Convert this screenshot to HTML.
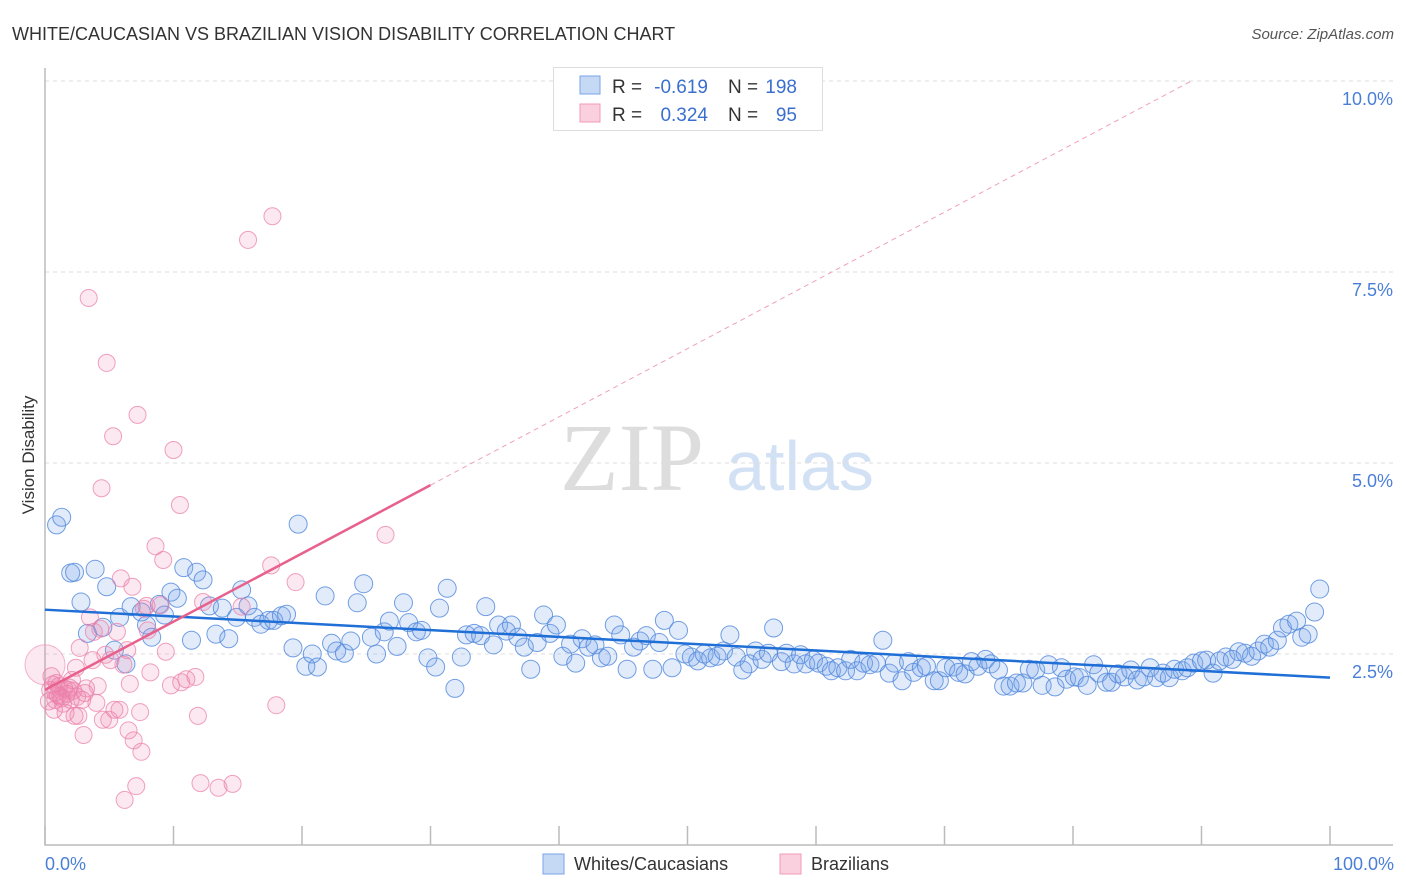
<!DOCTYPE html>
<html><head><meta charset="utf-8"><style>
body{margin:0;background:#fff;font-family:"Liberation Sans",sans-serif;}
svg{display:block}
</style></head><body>
<svg id="chart" width="1406" height="892">
<text x="12" y="40" font-size="18" fill="#333">WHITE/CAUCASIAN VS BRAZILIAN VISION DISABILITY CORRELATION CHART</text>
<text x="1394" y="39" font-size="15" fill="#555" font-style="italic" text-anchor="end">Source: ZipAtlas.com</text>
<g>
<text x="632" y="490" font-size="96" font-family="Liberation Serif,serif" fill="#ddd" text-anchor="middle">ZIP</text>
<text x="800" y="490" font-size="70" fill="#d3e1f5" text-anchor="middle">atlas</text>
</g>
<g id="grid"></g>
<g id="axes"></g>
<g id="pts"></g>
<g id="trends"></g>
<text transform="translate(34,455) rotate(-90)" font-size="17" fill="#333" text-anchor="middle">Vision Disability</text>
<text x="45" y="870" font-size="18" fill="#4a7fd8">0.0%</text>
<text x="1394" y="870" font-size="18" fill="#4a7fd8" text-anchor="end">100.0%</text>
<g>
<rect x="553.5" y="67.5" width="269" height="63" fill="#fff" stroke="#ddd"/>
<rect x="580" y="76" width="20" height="18" fill="#c5d9f5" stroke="#7aa5e8"/>
<rect x="580" y="104" width="20" height="18" fill="#fbd0de" stroke="#f29ab8"/>
<text x="612" y="93" font-size="19" fill="#333">R =</text>
<text x="708" y="93" font-size="19" fill="#3a6fd0" text-anchor="end">-0.619</text>
<text x="728" y="93" font-size="19" fill="#333">N =</text>
<text x="797" y="93" font-size="19" fill="#3a6fd0" text-anchor="end">198</text>
<text x="612" y="121" font-size="19" fill="#333">R =</text>
<text x="708" y="121" font-size="19" fill="#3a6fd0" text-anchor="end">0.324</text>
<text x="728" y="121" font-size="19" fill="#333">N =</text>
<text x="797" y="121" font-size="19" fill="#3a6fd0" text-anchor="end">95</text>
</g>
<g>
<rect x="543" y="854" width="21" height="20" fill="#c5d9f5" stroke="#7aa5e8"/>
<text x="574" y="870" font-size="18" fill="#333">Whites/Caucasians</text>
<rect x="780" y="854" width="21" height="20" fill="#fbd0de" stroke="#f29ab8"/>
<text x="811" y="870" font-size="18" fill="#333">Brazilians</text>
</g>
</svg>
<script>
const yTicks=[2.5,5,7.5,10];
const yTickLabels=["2.5%","5.0%","7.5%","10.0%"];
const xTicks=[0,10,20,30,40,50,60,70,80,90,100];
const whitesX=[0.9,1.3,2.0,2.3,2.8,3.3,3.9,4.5,4.8,5.4,5.8,6.3,6.7,7.5,7.9,8.3,8.9,9.3,9.8,10.3,10.8,11.4,11.8,12.3,12.8,13.3,13.8,14.3,14.9,15.3,15.8,16.3,16.8,17.4,17.8,18.4,18.8,19.3,19.7,20.3,20.8,21.2,21.8,22.3,22.7,23.3,23.8,24.3,24.8,25.4,25.8,26.4,26.8,27.4,27.9,28.3,28.9,29.3,29.8,30.4,30.7,31.3,31.9,32.4,32.8,33.4,33.9,34.3,34.9,35.3,35.9,36.3,36.8,37.3,37.8,38.3,38.8,39.3,39.8,40.3,40.9,41.3,41.8,42.3,42.8,43.3,43.8,44.3,44.8,45.3,45.8,46.3,46.8,47.3,47.8,48.2,48.8,49.3,49.8,50.3,50.8,51.3,51.8,52.3,52.8,53.3,53.8,54.3,54.8,55.3,55.8,56.3,56.7,57.3,57.7,58.3,58.8,59.2,59.8,60.2,60.8,61.2,61.7,62.3,62.7,63.2,63.7,64.2,64.7,65.2,65.7,66.1,66.7,67.2,67.6,68.2,68.6,69.2,69.6,70.1,70.7,71.1,71.6,72.1,72.6,73.2,73.6,74.2,74.6,75.1,75.6,76.1,76.6,77.1,77.6,78.1,78.6,79.1,79.5,80.1,80.5,81.1,81.6,82.0,82.6,83.0,83.5,84.0,84.5,85.0,85.5,86.0,86.5,87.0,87.5,87.9,88.5,88.9,89.4,90.0,90.4,90.9,91.4,91.9,92.4,92.9,93.4,93.9,94.4,94.9,95.3,95.9,96.3,96.8,97.4,97.8,98.3,98.8,99.2];
const whitesY=[4.19,4.29,3.56,3.57,3.18,2.77,3.61,2.85,3.38,2.55,2.98,2.37,3.12,3.05,2.88,2.72,3.15,3.01,3.31,3.23,3.63,2.68,3.57,3.47,3.13,2.76,3.10,2.70,2.98,3.34,3.13,2.98,2.89,2.94,2.94,3.0,3.02,2.58,4.20,2.34,2.50,2.33,3.26,2.64,2.54,2.51,2.67,3.17,3.42,2.72,2.50,2.79,2.93,2.60,3.17,2.91,2.79,2.81,2.45,2.33,3.10,3.36,2.05,2.46,2.75,2.77,2.74,3.12,2.62,2.88,2.80,2.88,2.72,2.59,2.30,2.65,3.01,2.77,2.88,2.47,2.63,2.38,2.70,2.59,2.62,2.45,2.47,2.88,2.75,2.30,2.59,2.67,2.74,2.30,2.65,2.94,2.32,2.81,2.50,2.46,2.41,2.50,2.45,2.47,2.54,2.75,2.46,2.29,2.37,2.54,2.43,2.51,2.84,2.40,2.51,2.37,2.49,2.37,2.42,2.38,2.34,2.28,2.32,2.28,2.43,2.28,2.38,2.36,2.38,2.68,2.25,2.38,2.15,2.40,2.26,2.32,2.34,2.15,2.15,2.32,2.33,2.26,2.24,2.40,2.34,2.43,2.37,2.29,2.08,2.08,2.12,2.12,2.30,2.29,2.09,2.36,2.07,2.32,2.17,2.20,2.19,2.09,2.36,2.25,2.13,2.13,2.24,2.20,2.29,2.16,2.20,2.32,2.19,2.25,2.19,2.30,2.28,2.32,2.38,2.41,2.42,2.25,2.41,2.46,2.43,2.53,2.51,2.47,2.54,2.63,2.59,2.68,2.84,2.89,2.93,2.72,2.76,3.05,3.35];
const brazX=[0.4,0.5,0.7,0.8,1.0,1.1,1.3,1.5,1.6,1.8,2.0,2.1,2.3,2.4,2.6,2.7,2.9,3.0,3.2,3.4,3.5,3.7,3.8,4.0,4.1,4.3,4.4,4.5,4.7,4.8,5.0,5.1,5.3,5.4,5.6,5.8,5.9,6.1,6.2,6.4,6.5,6.6,6.8,6.9,7.1,7.2,7.4,7.5,7.7,7.9,8.0,8.2,8.6,9.0,9.2,9.4,10.0,9.8,10.5,10.6,11.0,11.7,11.9,12.1,12.3,13.5,14.6,15.3,15.8,17.7,17.6,18.0,19.5,26.5,0.8,1.2,0.3,1.7,2.2,0.6,1.4,1.9,2.5,3.1,0.9];
const brazY=[2.03,2.21,1.77,1.90,1.96,2.08,1.92,2.05,1.73,2.03,1.90,2.16,1.69,2.32,1.69,2.58,1.90,1.44,2.05,7.16,2.98,2.42,2.79,1.86,2.08,2.83,4.67,1.64,2.49,6.31,1.64,2.42,5.35,1.77,2.79,1.77,3.49,2.36,0.59,2.55,1.50,2.11,3.38,1.37,0.77,5.63,1.74,1.22,3.09,3.13,2.81,2.26,3.91,3.14,3.73,2.53,5.17,2.09,4.45,2.13,2.17,2.20,1.69,0.81,3.18,0.75,0.80,3.12,7.92,8.23,3.66,1.83,3.44,4.06,2.00,1.95,1.88,1.98,2.02,2.10,1.85,2.06,1.94,1.99,2.12];
const whitesTrend=[3.08,2.19];
const brazTrend=[2.03,4.71];
const NS='http://www.w3.org/2000/svg';
const X=v=>45+v*12.85;
const Y=v=>845-v*76.4;
function mk(tag,attrs,parent){const e=document.createElementNS(NS,tag);for(const k in attrs)e.setAttribute(k,attrs[k]);parent.appendChild(e);return e;}
const grid=document.getElementById('grid'),axes=document.getElementById('axes'),pts=document.getElementById('pts'),tr=document.getElementById('trends');
yTicks.forEach((t,i)=>{
 const l=mk('line',{x1:45,x2:1393,y1:Y(t),y2:Y(t),stroke:'#ddd','stroke-dasharray':'4,4'},grid);
 
 
 const tx=mk('text',{x:1393,y:Y(t)+24,'font-size':18,fill:'#4a7fd8','text-anchor':'end'},grid);
 tx.textContent=yTickLabels[i];
 
 
});
const ax=mk('path',{d:'M45,68V845H1393',fill:'none',stroke:'#bbb','stroke-width':1.5},axes);


xTicks.forEach(t=>{
 const l=mk('line',{x1:X(t),x2:X(t),y1:826,y2:845,stroke:'#bbb','stroke-width':1.5},axes);
 
 
});
whitesX.forEach((x,i)=>{
 const c=mk('circle',{cx:X(x),cy:Y(whitesY[i]),r:9,fill:'rgba(120,165,230,0.22)',stroke:'rgba(80,135,220,0.8)','stroke-width':1},pts);
 
 
});
const big=mk('circle',{cx:X(0),cy:Y(2.36),r:20,fill:'rgba(240,130,170,0.18)',stroke:'rgba(240,150,185,0.7)','stroke-width':1},pts);


brazX.forEach((x,i)=>{
 const c=mk('circle',{cx:X(x),cy:Y(brazY[i]),r:8.5,fill:'rgba(240,130,170,0.18)',stroke:'rgba(235,130,170,0.75)','stroke-width':1},pts);
 
 
});
const wl=mk('line',{x1:X(0),y1:Y(whitesTrend[0]),x2:X(100),y2:Y(whitesTrend[1]),stroke:'#1f6fd6','stroke-width':2.5},tr);


const slope=(brazTrend[1]-brazTrend[0])/30;
const xEnd=(10-brazTrend[0])/slope;
const bd=mk('line',{x1:X(30),y1:Y(brazTrend[1]),x2:X(xEnd),y2:Y(10),stroke:'#f0a0ba','stroke-width':1,'stroke-dasharray':'5,4'},tr);


const bl=mk('line',{x1:X(0),y1:Y(brazTrend[0]),x2:X(30),y2:Y(brazTrend[1]),stroke:'#e8608c','stroke-width':2.5},tr);


</script>
</body></html>
